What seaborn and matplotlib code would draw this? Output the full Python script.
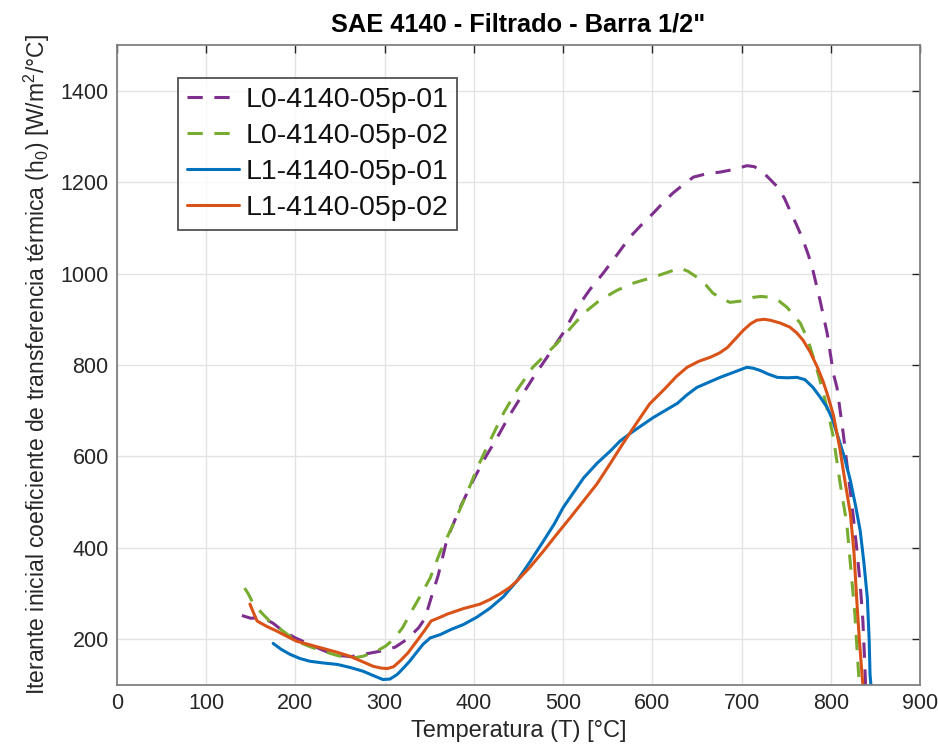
import numpy as np
import pandas as pd
import matplotlib
matplotlib.use("Agg")
import matplotlib.pyplot as plt
import seaborn as sns

# ---------------- data ----------------
series_names = ["L0-4140-05p-01", "L0-4140-05p-02", "L1-4140-05p-01", "L1-4140-05p-02"]

l0_01_T = [140, 150, 163, 175, 186, 200, 216, 232, 247, 262, 276, 298, 312, 325, 338, 345, 352, 360,
           370, 385, 399, 412, 426, 440, 455, 468, 482, 500, 516, 530, 545, 560, 575, 587, 601, 612,
           623, 635, 646, 660, 676, 692, 706, 714, 721, 730, 740, 748, 754, 762, 769, 775, 780, 788,
           796, 803, 807, 810, 814, 818, 824, 829, 833, 836, 838, 839]
l0_01_h = [252, 246, 248, 235, 218, 203, 189, 175, 165, 162, 167, 175, 183, 200, 225, 245, 290, 340,
           420, 490, 547, 595, 641, 690, 737, 777, 817, 870, 926, 965, 1001, 1040, 1080, 1105, 1132, 1155,
           1176, 1195, 1211, 1218, 1222, 1228, 1236, 1234, 1227, 1210, 1190, 1165, 1139, 1105, 1073, 1040, 1007, 941,
           869, 781, 750, 707, 650, 584, 490, 400, 320, 240, 150, 100]

l0_02_T = [143, 147, 153, 162, 171, 186, 201, 216, 231, 246, 261, 276, 291, 301, 310, 320, 328, 340,
           351, 362, 377, 392, 404, 418, 433, 448, 466, 480, 493, 508, 523, 540, 560, 580, 601, 616,
           631, 640, 650, 660, 668, 678, 687, 700, 713, 722, 732, 742, 751, 758, 766, 772, 777, 783,
           788, 794, 799, 803, 810, 818, 822, 827, 830, 832]
l0_02_h = [312, 300, 277, 258, 240, 218, 196, 184, 174, 165, 158, 163, 174, 185, 200, 225, 254, 295,
           334, 390, 452, 518, 576, 634, 694, 744, 795, 822, 847, 880, 913, 940, 963, 980, 992, 1002,
           1012, 1005, 992, 975, 957, 945, 937, 940, 948, 950, 948, 940, 926, 910, 891, 865, 839, 800,
           766, 720, 678, 641, 547, 452, 365, 255, 160, 100]

l1_01_T = [175, 184, 194, 205, 216, 232, 247, 262, 276, 288, 298, 306, 314, 321, 328, 336, 343, 351,
           362, 375, 388, 403, 418, 433, 448, 463, 478, 490, 500, 512, 523, 538, 553, 564, 575, 586,
           601, 614, 628, 639, 650, 663, 676, 691, 706, 713, 721, 730, 740, 751, 762, 771, 780, 788,
           796, 802, 807, 815, 822, 828, 833, 837, 841, 843, 844, 845]
l1_01_h = [191, 178, 167, 158, 152, 148, 145, 138, 130, 120, 112, 113, 123, 137, 152, 172, 189, 203,
           210, 222, 232, 248, 268, 293, 327, 370, 415, 452, 488, 522, 553, 585, 612, 634, 650, 665,
           685, 700, 716, 735, 751, 762, 773, 784, 795, 793, 788, 780, 773, 772, 773, 768, 751, 730,
           707, 680, 650, 600, 547, 490, 437, 370, 290, 200, 123, 100]

l1_02_T = [149, 153, 157, 168, 179, 190, 201, 216, 231, 246, 261, 274, 287, 296, 303, 310, 317, 326,
           336, 345, 352, 362, 370, 388, 407, 418, 429, 440, 448, 463, 478, 493, 508, 523, 538, 553,
           567, 582, 597, 614, 627, 639, 652, 665, 675, 684, 693, 702, 710, 717, 725, 732, 743, 754,
           762, 769, 777, 785, 791, 796, 803, 810, 816, 822, 826, 829, 832, 835, 836]
l1_02_h = [277, 258, 240, 228, 218, 207, 196, 188, 180, 172, 163, 152, 141, 137, 136, 140, 152, 170,
           196, 220, 240, 248, 255, 267, 277, 287, 299, 313, 327, 358, 393, 430, 466, 503, 540, 585,
           628, 672, 715, 748, 775, 795, 808, 817, 826, 838, 857, 876, 890, 898, 900, 898, 892, 883,
           870, 854, 828, 795, 766, 737, 690, 619, 545, 474, 390, 290, 200, 123, 100]

x_ticks = [0, 100, 200, 300, 400, 500, 600, 700, 800, 900]
y_ticks = [200, 400, 600, 800, 1000, 1200, 1400]

title_text = 'SAE 4140 - Filtrado - Barra 1/2"'
xlabel_text = "Temperatura (T) [°C]"
ylabel_text = "Iterante inicial coeficiente de transferencia térmica (h$_0$) [W/m$^2$/°C]"

# ---------------- build long-form table ----------------
frames = []
for name, T, h in zip(series_names,
                      [l0_01_T, l0_02_T, l1_01_T, l1_02_T],
                      [l0_01_h, l0_02_h, l1_01_h, l1_02_h]):
    frames.append(pd.DataFrame({"T": T, "h": h, "serie": name}))
df = pd.concat(frames, ignore_index=True)

palette = {series_names[0]: "#7E2F8E", series_names[1]: "#77AC30",
           series_names[2]: "#0072BD", series_names[3]: "#D95319"}
dashes = {series_names[0]: (5, 3.8), series_names[1]: (5, 3.8),
          series_names[2]: None, series_names[3]: None}

# ---------------- style ----------------
sns.set_theme(style="white")
plt.rcParams["font.family"] = ["Liberation Sans", "DejaVu Sans"]
plt.rcParams["mathtext.fontset"] = "custom"
plt.rcParams["mathtext.rm"] = "Liberation Sans"
plt.rcParams["mathtext.it"] = "Liberation Sans"

fig = plt.figure(figsize=(9.38, 7.5), dpi=100)
ax = fig.add_axes([117 / 938, 1 - 685 / 750, 803 / 938, 640 / 750])

for name in series_names:
    sub = df[df["serie"] == name]
    sns.lineplot(data=sub, x="T", y="h", sort=False, estimator=None, color=palette[name],
                 lw=2.2, ax=ax, label=name)
    line = ax.get_lines()[-1]
    if dashes[name]:
        line.set_dashes(dashes[name])

ax.set_xlim(0, 900)
ax.set_ylim(100, 1500)
ax.set_xticks(x_ticks)
ax.set_yticks(y_ticks)

axis_col = "#262626"
ax.grid(True, color="#e3e3e3", linewidth=1.0)
ax.set_axisbelow(True)
for s in ax.spines.values():
    s.set_visible(True)
    s.set_color("#808080")
    s.set_linewidth(1.3)
ax.tick_params(axis="both", which="both", direction="in", top=True, right=True,
               length=6, width=1.0, color=axis_col, labelsize=15.5, labelcolor=axis_col, pad=6)

ax.set_xlabel(xlabel_text, fontsize=17, color=axis_col, labelpad=4)
ax.set_ylabel(ylabel_text, fontsize=16.5, color=axis_col, labelpad=6)
ax.set_title(title_text, fontsize=18.3, fontweight="bold", color="black", pad=10)

leg = ax.legend(loc="upper left", bbox_to_anchor=(61 / 803, 1 - 33 / 640), borderaxespad=0,
                fontsize=20.5, frameon=True, fancybox=False, handlelength=1.85,
                handletextpad=0.22, labelspacing=0.36, borderpad=0.3)
leg.get_frame().set_edgecolor("#262626")
leg.get_frame().set_linewidth(1.3)
for t in leg.get_texts():
    t.set_color("#111111")

fig.savefig("out.png", dpi=100)
